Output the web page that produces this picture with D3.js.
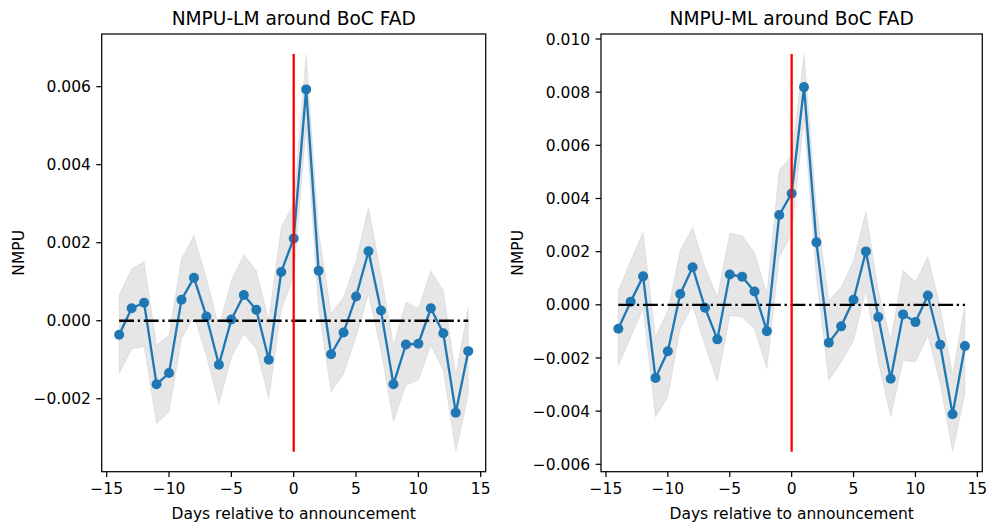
<!DOCTYPE html>
<html>
<head>
<meta charset="utf-8">
<script src="https://cdn.jsdelivr.net/npm/d3@7"></script>
<style>
  html, body { margin: 0; padding: 0; background: #fff; }
  svg { display: block; font-family: "DejaVu Sans", sans-serif; }
</style>
</head>
<body>
<svg id="chart" width="990" height="527"></svg>
<script>
// ---------- data ----------
const days = [-14,-13,-12,-11,-10,-9,-8,-7,-6,-5,-4,-3,-2,-1,0,1,2,3,4,5,6,7,8,9,10,11,12,13,14];

const lmMean  = [-0.00036, 0.00032, 0.00046, -0.00163, -0.00134, 0.00054, 0.00110, 0.00011, -0.00113, 0.00003, 0.00066, 0.00028, -0.00100, 0.00125, 0.00211, 0.00593, 0.00128, -0.00086, -0.00030, 0.00062, 0.00178, 0.00026, -0.00163, -0.00061, -0.00059, 0.00032, -0.00032, -0.00236, -0.00078];
const lmUpper = [0.00065, 0.00133, 0.00151, -0.00063, -0.00038, 0.00158, 0.00218, 0.00108, -0.00016, 0.00103, 0.00169, 0.00128, 0.00001, 0.00240, 0.00300, 0.00684, 0.00228, 0.00018, 0.00060, 0.00154, 0.00290, 0.00120, -0.00063, 0.00048, 0.00031, 0.00128, 0.00077, -0.00140, 0.00035];
const lmLower = [-0.00135, -0.00072, -0.00066, -0.00263, -0.00233, -0.00046, 0.00013, -0.00090, -0.00214, -0.00093, -0.00033, -0.00072, -0.00200, 0.00028, 0.00112, 0.00495, 0.00030, -0.00182, -0.00135, -0.00042, 0.00069, -0.00076, -0.00259, -0.00165, -0.00152, -0.00063, -0.00127, -0.00336, -0.00190];

const mlMean  = [-0.00090, 0.00012, 0.00107, -0.00275, -0.00175, 0.00041, 0.00141, -0.00011, -0.00130, 0.00114, 0.00106, 0.00050, -0.00099, 0.00338, 0.00419, 0.00819, 0.00235, -0.00143, -0.00081, 0.00019, 0.00201, -0.00046, -0.00278, -0.00036, -0.00065, 0.00035, -0.00150, -0.00412, -0.00155];
const mlUpper = [0.00054, 0.00166, 0.00272, -0.00121, -0.00021, 0.00204, 0.00291, 0.00141, 0.00029, 0.00269, 0.00260, 0.00197, 0.00041, 0.00507, 0.00560, 0.00944, 0.00365, 0.00016, 0.00066, 0.00166, 0.00351, 0.00054, -0.00134, 0.00129, 0.00085, 0.00181, -0.00009, -0.00265, 0.00004];
const mlLower = [-0.00228, -0.00121, -0.00015, -0.00422, -0.00347, -0.00090, -0.00003, -0.00153, -0.00290, -0.00040, -0.00046, -0.00090, -0.00240, 0.00179, 0.00266, 0.00700, 0.00100, -0.00284, -0.00215, -0.00134, 0.00054, -0.00215, -0.00422, -0.00209, -0.00215, -0.00115, -0.00297, -0.00553, -0.00334];

const xTicks = [-15, -10, -5, 0, 5, 10, 15];
const lmYTicks = [-0.002, 0.000, 0.002, 0.004, 0.006];
const mlYTicks = [-0.006, -0.004, -0.002, 0.000, 0.002, 0.004, 0.006, 0.008, 0.010];

const titles = ["NMPU-LM around BoC FAD", "NMPU-ML around BoC FAD"];
const xLabel = "Days relative to announcement";
const yLabel = "NMPU";

// ---------- layout ----------
const svg = d3.select("#chart");
const panels = [
  { left: 101.7, right: 485.7, mean: lmMean, upper: lmUpper, lower: lmLower, yTicks: lmYTicks, title: titles[0], ylabX: 18 },
  { left: 601, right: 982.3, mean: mlMean, upper: mlUpper, lower: mlLower, yTicks: mlYTicks, title: titles[1], ylabX: 517 }
];
const axTop = 34, axBottom = 471.7;
const fontSize = 15.5, titleSize = 18.6;
const tickLen = 5.4, tickPad = 5.4;
const fmt = d3.format(".3f");

panels.forEach(p => {
  const dmin = d3.min(days), dmax = d3.max(days);
  const xm = (dmax - dmin) * 0.05;
  const x = d3.scaleLinear().domain([dmin - xm, dmax + xm]).range([p.left, p.right]);
  const lo = d3.min(p.lower), hi = d3.max(p.upper);
  const ym = (hi - lo) * 0.05;
  const y = d3.scaleLinear().domain([lo - ym, hi + ym]).range([axBottom, axTop]);

  const g = svg.append("g");
  const idx = d3.range(days.length);

  // shaded band
  const area = d3.area().x(i => x(days[i])).y0(i => y(p.lower[i])).y1(i => y(p.upper[i]));
  g.append("path").attr("d", area(idx))
    .attr("fill", "rgb(128,128,128)").attr("fill-opacity", 0.2)
    .attr("stroke", "rgb(128,128,128)").attr("stroke-opacity", 0.12).attr("stroke-width", 1.2);

  // mean line
  const line = d3.line().x(i => x(days[i])).y(i => y(p.mean[i]));
  g.append("path").attr("d", line(idx)).attr("fill", "none")
    .attr("stroke", "#1f77b4").attr("stroke-width", 2.33).attr("stroke-linejoin", "round");
  g.selectAll("circle.m").data(idx).enter().append("circle")
    .attr("cx", i => x(days[i])).attr("cy", i => y(p.mean[i])).attr("r", 5)
    .attr("fill", "#1f77b4");

  // zero dash-dot line
  g.append("line")
    .attr("x1", x(dmin)).attr("x2", x(dmax)).attr("y1", y(0)).attr("y2", y(0))
    .attr("stroke", "#000").attr("stroke-width", 2.33)
    .attr("stroke-dasharray", "14.9,3.7,2.3,3.7");

  // red vertical line at announcement
  g.append("line")
    .attr("x1", x(0)).attr("x2", x(0)).attr("y1", y(lo)).attr("y2", y(hi))
    .attr("stroke", "#ff0000").attr("stroke-width", 2.33);

  // frame
  g.append("rect").attr("x", p.left).attr("y", axTop)
    .attr("width", p.right - p.left).attr("height", axBottom - axTop)
    .attr("fill", "none").attr("stroke", "#000").attr("stroke-width", 1.24);

  // x ticks
  const xt = g.append("g");
  xTicks.forEach(t => {
    xt.append("line").attr("x1", x(t)).attr("x2", x(t))
      .attr("y1", axBottom).attr("y2", axBottom + tickLen)
      .attr("stroke", "#000").attr("stroke-width", 1.24);
    xt.append("text").attr("x", x(t)).attr("y", axBottom + tickLen + tickPad + fontSize * 0.76)
      .attr("text-anchor", "middle").attr("font-size", fontSize).attr("fill", "#000")
      .text(d3.format("d")(t));
  });

  // y ticks
  const yt = g.append("g");
  p.yTicks.forEach(t => {
    yt.append("line").attr("x1", p.left - tickLen).attr("x2", p.left)
      .attr("y1", y(t)).attr("y2", y(t))
      .attr("stroke", "#000").attr("stroke-width", 1.24);
    yt.append("text").attr("x", p.left - tickLen - tickPad).attr("y", y(t))
      .attr("dy", "0.36em")
      .attr("text-anchor", "end").attr("font-size", fontSize).attr("fill", "#000")
      .text(fmt(t));
  });

  // labels
  g.append("text").attr("x", (p.left + p.right) / 2).attr("y", 24.7)
    .attr("text-anchor", "middle").attr("font-size", titleSize).attr("fill", "#000")
    .text(p.title);
  g.append("text").attr("x", (p.left + p.right) / 2).attr("y", 519)
    .attr("text-anchor", "middle").attr("font-size", fontSize).attr("fill", "#000")
    .text(xLabel);
  g.append("text")
    .attr("transform", `translate(${p.ylabX + 5.5},${(axTop + axBottom) / 2}) rotate(-90)`)
    .attr("text-anchor", "middle").attr("font-size", fontSize).attr("fill", "#000")
    .text(yLabel);
});
</script>
</body>
</html>
